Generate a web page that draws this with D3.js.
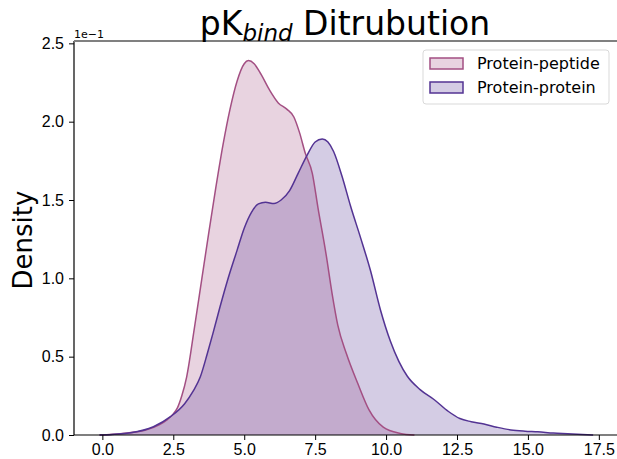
<!DOCTYPE html>
<html><head><meta charset="utf-8">
<script src="https://cdn.jsdelivr.net/npm/d3@7"></script>
<style>body{margin:0;background:#fff}svg{font-family:"DejaVu Sans",sans-serif}</style>
</head><body><svg id="c" width="617" height="459"></svg>
<script>
// Values in units of 1e-1
const peptideX = [-0.1,0.7,1.5,2.0,2.3,2.5,2.65,2.8,2.97,3.25,3.5,3.75,4.0,4.25,4.5,4.75,5.0,5.15,5.35,5.6,5.9,6.2,6.5,6.75,6.95,7.15,7.4,7.6,7.88,8.1,8.3,8.6,9.0,9.4,9.9,10.5,11.0];
const peptideY = [0,0.01,0.03,0.065,0.1,0.135,0.175,0.25,0.37,0.69,0.99,1.29,1.58,1.85,2.08,2.26,2.37,2.39,2.37,2.30,2.20,2.12,2.08,2.03,1.93,1.80,1.67,1.45,1.16,0.90,0.70,0.52,0.33,0.16,0.05,0.01,0];
const proteinX = [-0.1,1.0,1.8,2.4,2.9,3.2,3.45,3.7,3.9,4.15,4.4,4.75,5.0,5.25,5.5,5.75,6.05,6.3,6.6,6.9,7.2,7.5,7.75,7.95,8.15,8.45,8.75,9.1,9.45,9.8,10.15,10.45,10.75,11.2,11.7,12.2,12.6,13.0,13.45,13.9,14.4,14.9,15.35,15.9,16.4,17.3];
const proteinY = [0,0.015,0.053,0.117,0.2,0.28,0.37,0.52,0.65,0.82,0.98,1.18,1.32,1.42,1.475,1.485,1.478,1.50,1.56,1.67,1.78,1.87,1.89,1.87,1.81,1.65,1.46,1.26,1.05,0.80,0.60,0.47,0.375,0.29,0.225,0.15,0.105,0.085,0.07,0.05,0.032,0.024,0.02,0.012,0.008,0];
const xTicks = [0,2.5,5,7.5,10,12.5,15,17.5];
const yTicks = [0,0.5,1.0,1.5,2.0,2.5];
const seriesNames = ["Protein-peptide","Protein-protein"];
const lineColors = ["#a34f83","#533393"];

const svg = d3.select("#c");
const L=74, R=617, T=41, B=435;
const x = d3.scaleLinear().domain([-1.0, 18.14]).range([L, R]);
const y = d3.scaleLinear().domain([0, 2.515]).range([B, T]);

const series = [
  {name:seriesNames[0], pts:peptideX.map((v,i)=>[v,peptideY[i]]), color:lineColors[0]},
  {name:seriesNames[1], pts:proteinX.map((v,i)=>[v,proteinY[i]]), color:lineColors[1]}
];
const area = d3.area().x(d=>x(d[0])).y0(y(0)).y1(d=>y(d[1])).curve(d3.curveMonotoneX);
const line = d3.line().x(d=>x(d[0])).y(d=>y(d[1])).curve(d3.curveMonotoneX);

series.forEach(s=>{
  svg.append("path").attr("d",area(s.pts)).attr("fill",s.color).attr("fill-opacity",0.25);
});
series.forEach(s=>{
  svg.append("path").attr("d",line(s.pts)).attr("fill","none").attr("stroke",s.color).attr("stroke-width",1.5);
});

// axes
const xAxis = d3.axisBottom(x).tickValues(xTicks).tickFormat(d3.format(".1f")).tickSize(5).tickPadding(4);
const gx = svg.append("g").attr("transform",`translate(0,${B})`).call(xAxis);
gx.select(".domain").remove();
svg.append("line").attr("x1",L).attr("x2",R).attr("y1",B).attr("y2",B).attr("stroke","#000").attr("stroke-width",1.2);
gx.selectAll("text").attr("font-size",16).attr("fill","#000");
const yAxis = d3.axisLeft(y).tickValues(yTicks).tickFormat(d3.format(".1f")).tickSize(5).tickPadding(5);
const gy = svg.append("g").attr("transform",`translate(${L},0)`).call(yAxis);
gy.select(".domain").remove();
svg.append("line").attr("x1",L).attr("x2",L).attr("y1",T).attr("y2",B).attr("stroke","#000").attr("stroke-width",1.2);
gy.selectAll("text").attr("font-size",16).attr("fill","#000");
svg.append("line").attr("x1",L).attr("x2",R).attr("y1",T).attr("y2",T).attr("stroke","#808080").attr("stroke-width",2);

svg.append("text").attr("x",L).attr("y",T-3).attr("font-size",11).text("1e\u22121");

// title
const title = svg.append("text").attr("x",345).attr("y",35).attr("text-anchor","middle").attr("font-size",33);
title.append("tspan").text("pK");
title.append("tspan").attr("font-style","italic").attr("font-size",23).attr("dy",6).text("bind");
title.append("tspan").attr("dy",-6).text(" Ditrubution");

svg.append("text").attr("transform","translate(32,240) rotate(-90)").attr("text-anchor","middle").attr("font-size",26).text("Density");

// legend
const lg = svg.append("g").attr("transform","translate(423,50)");
lg.append("rect").attr("width",186).attr("height",54).attr("rx",3).attr("fill","#fff").attr("fill-opacity",0.8).attr("stroke","#d9d9d9");
series.forEach((s,i)=>{
  const yy = 8 + i*24;
  lg.append("rect").attr("x",7).attr("y",yy).attr("width",33).attr("height",11).attr("fill",s.color).attr("fill-opacity",0.25).attr("stroke",s.color).attr("stroke-width",1.5);
  lg.append("text").attr("x",54).attr("y",yy+11).attr("font-size",16).text(s.name);
});
</script></body></html>
